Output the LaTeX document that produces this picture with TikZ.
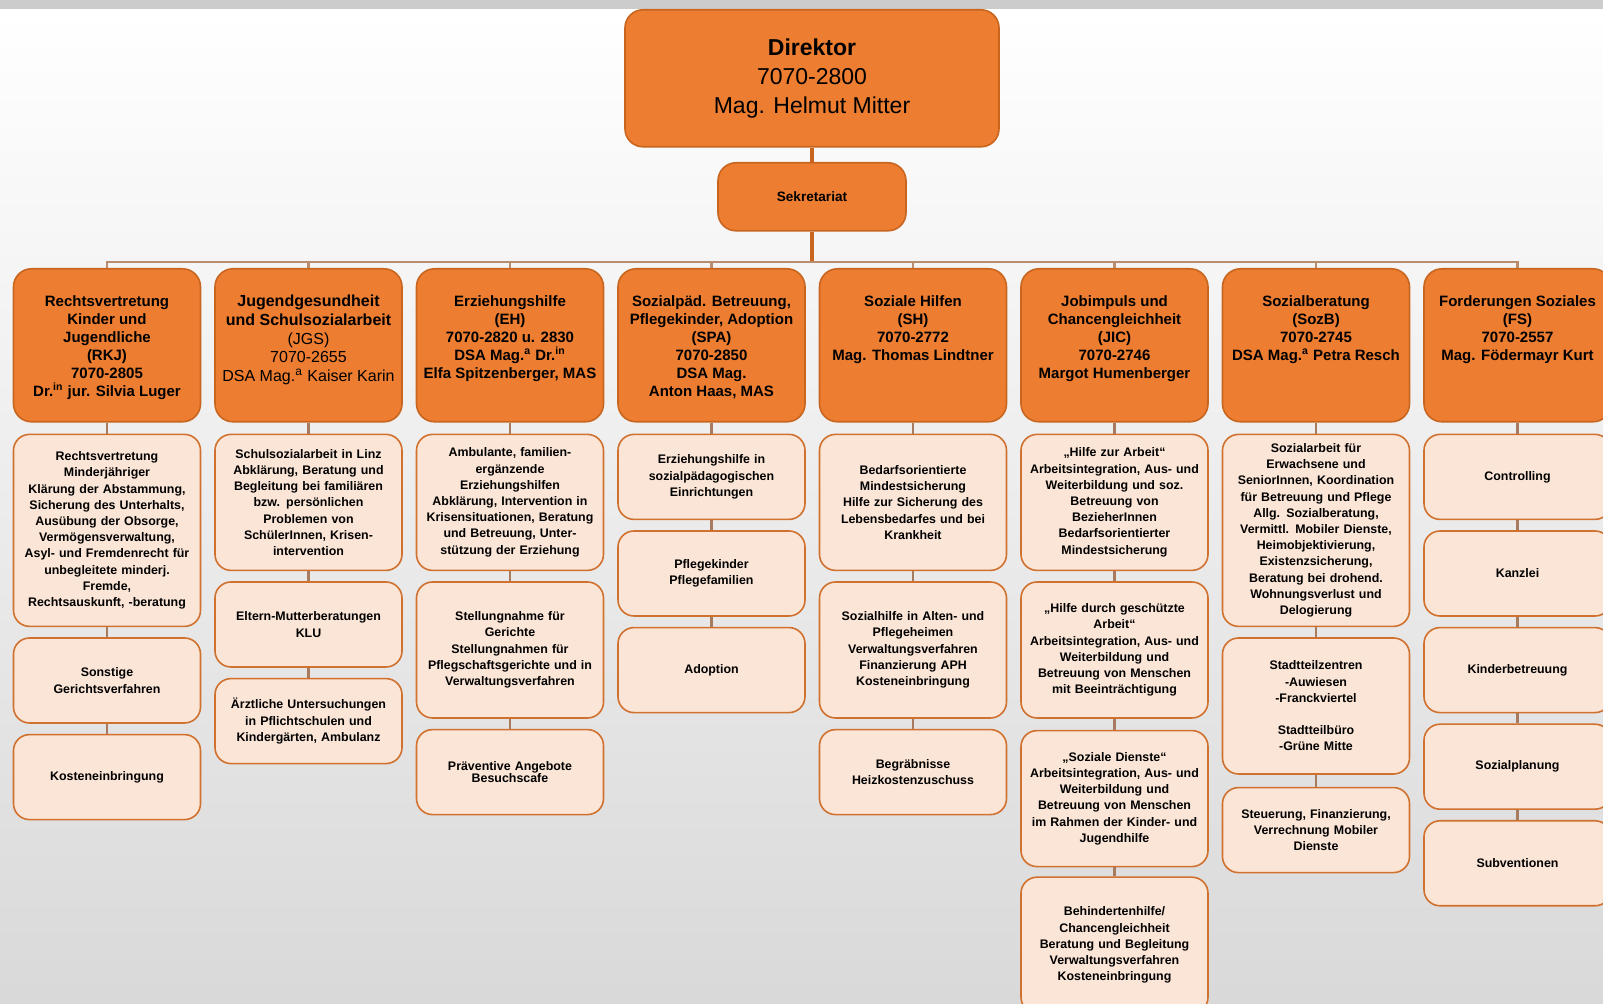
\documentclass[tikz,border=0pt]{standalone}
\usepackage{fontspec}
\setmainfont{Liberation Sans}
\usepackage{tikz}
\usetikzlibrary{positioning}

\definecolor{deptorange}{HTML}{ED7D31}
\definecolor{deptedge}{HTML}{C8651F}
\definecolor{taskfill}{HTML}{FBE5D6}
\definecolor{taskedge}{HTML}{D0712F}
\definecolor{buscol}{HTML}{B88C6C}
\definecolor{linkcol}{HTML}{A87A5E}

\newcommand{\headtext}[1]{\parbox[c][70pt][t]{92pt}{\centering\vspace*{10pt}#1}}

\begin{document}
\begin{tikzpicture}[
  x=0.5pt, y=-0.5pt,
  dept/.style={
    rectangle,
    draw=deptedge,
    line width=0.8pt,
    rounded corners=9pt,
    fill=deptorange,
    inner sep=0pt,
    minimum width=93.5pt,
    minimum height=76.5pt,
    anchor=north,
    font=\fontsize{7.5}{9}\bfseries\selectfont
  },
  task/.style={
    rectangle,
    draw=taskedge,
    line width=0.8pt,
    rounded corners=8pt,
    fill=taskfill,
    align=center,
    text width=90pt,
    inner xsep=1.75pt,
    minimum width=93.5pt,
    minimum height=42.5pt,
    font=\fontsize{6.2}{8.1}\bfseries\selectfont
  },
  midbox/.style={minimum height=68pt},
  bigbox/.style={minimum height=96pt},
  link/.style={draw=linkcol, line width=1.1pt},
  bus/.style={draw=buscol, line width=1.1pt},
  topline/.style={draw=deptedge, line width=1.6pt}
]

% Background
\useasboundingbox (0,0) rectangle (1603,1004);
\clip (0,0) rectangle (1603,1004);
\fill[top color=white, bottom color=black!15] (0,9) rectangle (1603,1004);
\fill[black!20] (0,0) rectangle (1603,9);

% Top of the chart
\node[dept, minimum width=187pt, minimum height=68.5pt, align=center,
      font=\fontsize{11.5}{14.5}\selectfont] (dir) at (812,9)
  {\textbf{Direktor}\\7070-2800\\Mag. Helmut Mitter};
\node[dept, minimum width=94pt, minimum height=34pt,
      font=\fontsize{6.8}{8}\bfseries\selectfont] (sek) at (812,162) {Sekretariat};
\coordinate (bus) at (812,262);

% Departments (left to right)
\node[dept] (rkj) at (107,268) {\headtext{Rechtsvertretung\\Kinder und\\Jugendliche\\(RKJ)\\7070-2805\\Dr.\textsuperscript{in} jur. Silvia Luger}};
\node[dept] (jgs) at (308.5,268) {\headtext{\fontsize{8}{9.3}\selectfont Jugendgesundheit\\und Schulsozialarbeit\\\mdseries (JGS)\\7070-2655\\DSA Mag.\textsuperscript{a} Kaiser Karin}};
\node[dept] (eh) at (510,268) {\headtext{Erziehungshilfe\\(EH)\\7070-2820 u. 2830\\DSA Mag.\textsuperscript{a} Dr.\textsuperscript{in}\\Elfa Spitzenberger, MAS}};
\node[dept] (spa) at (711.5,268) {\headtext{Sozialpäd. Betreuung,\\Pflegekinder, Adoption\\(SPA)\\7070-2850\\DSA Mag.\\Anton Haas, MAS}};
\node[dept] (sh) at (913,268) {\headtext{Soziale Hilfen\\(SH)\\7070-2772\\Mag. Thomas Lindtner}};
\node[dept] (jic) at (1114.5,268) {\headtext{Jobimpuls und\\Chancengleichheit\\(JIC)\\7070-2746\\Margot Humenberger}};
\node[dept] (sozb) at (1316,268) {\headtext{Sozialberatung\\(SozB)\\7070-2745\\DSA Mag.\textsuperscript{a} Petra Resch}};
\node[dept] (fs) at (1517.5,268) {\headtext{Forderungen Soziales\\(FS)\\7070-2557\\Mag. Födermayr Kurt}};

% Units below each department
\node[task, bigbox, below=5.5pt of rkj] (rkj1) {Rechtsvertretung\\Minderjähriger\\Klärung der Abstammung,\\Sicherung des Unterhalts,\\Ausübung der Obsorge,\\Vermögensverwaltung,\\Asyl- und Fremdenrecht für\\unbegleitete minderj.\\Fremde,\\Rechtsauskunft, -beratung};
\node[task, below=5pt of rkj1] (rkj2) {Sonstige\\Gerichtsverfahren};
\node[task, below=5pt of rkj2] (rkj3) {Kosteneinbringung};

\node[task, midbox, below=5.5pt of jgs] (jgs1) {Schulsozialarbeit in Linz\\Abklärung, Beratung und\\Begleitung bei familiären\\bzw. persönlichen\\Problemen von\\SchülerInnen, Krisen-\\intervention};
\node[task, below=5pt of jgs1] (jgs2) {Eltern-Mutterberatungen\\KLU};
\node[task, below=5pt of jgs2] (jgs3) {Ärztliche Untersuchungen\\in Pflichtschulen und\\Kindergärten, Ambulanz};

\node[task, midbox, below=5.5pt of eh] (eh1) {Ambulante, familien-\\ergänzende\\Erziehungshilfen\\Abklärung, Intervention in\\Krisensituationen, Beratung\\und Betreuung, Unter-\\stützung der Erziehung};
\node[task, midbox, below=5pt of eh1] (eh2) {Stellungnahme für\\Gerichte\\Stellungnahmen für\\Pflegschaftsgerichte und in\\Verwaltungsverfahren};
\node[task, below=5pt of eh2] (eh3) {Präventive Angebote\\[-2pt]Besuchscafe};

\node[task, below=5.5pt of spa] (spa1) {Erziehungshilfe in\\sozialpädagogischen\\Einrichtungen};
\node[task, below=5pt of spa1] (spa2) {Pflegekinder\\Pflegefamilien};
\node[task, below=5pt of spa2] (spa3) {Adoption};

\node[task, midbox, below=5.5pt of sh] (sh1) {Bedarfsorientierte\\Mindestsicherung\\Hilfe zur Sicherung des\\Lebensbedarfes und bei\\Krankheit};
\node[task, midbox, below=5pt of sh1] (sh2) {Sozialhilfe in Alten- und\\Pflegeheimen\\Verwaltungsverfahren\\Finanzierung APH\\Kosteneinbringung};
\node[task, below=5pt of sh2] (sh3) {Begräbnisse\\Heizkostenzuschuss};

\node[task, midbox, below=5.5pt of jic] (jic1) {„Hilfe zur Arbeit“\\Arbeitsintegration, Aus- und\\Weiterbildung und soz.\\Betreuung von\\BezieherInnen\\Bedarfsorientierter\\Mindestsicherung};
\node[task, midbox, below=5pt of jic1] (jic2) {„Hilfe durch geschützte\\Arbeit“\\Arbeitsintegration, Aus- und\\Weiterbildung und\\Betreuung von Menschen\\mit Beeinträchtigung};
\node[task, midbox, below=5.5pt of jic2] (jic3) {„Soziale Dienste“\\Arbeitsintegration, Aus- und\\Weiterbildung und\\Betreuung von Menschen\\im Rahmen der Kinder- und\\Jugendhilfe};
\node[task, midbox, below=4.5pt of jic3] (jic4) {Behindertenhilfe/\\Chancengleichheit\\Beratung und Begleitung\\Verwaltungsverfahren\\Kosteneinbringung};

\node[task, bigbox, below=5.5pt of sozb] (sozb1) {Sozialarbeit für\\Erwachsene und\\SeniorInnen, Koordination\\für Betreuung und Pflege\\Allg. Sozialberatung,\\Vermittl. Mobiler Dienste,\\Heimobjektivierung,\\Existenzsicherung,\\Beratung bei drohend.\\Wohnungsverlust und\\Delogierung};
\node[task, midbox, below=5pt of sozb1] (sozb2) {Stadtteilzentren\\-Auwiesen\\-Franckviertel\\[8.1pt]Stadtteilbüro\\-Grüne Mitte};
\node[task, below=6pt of sozb2] (sozb3) {Steuerung, Finanzierung,\\Verrechnung Mobiler\\Dienste};

\node[task, below=5.5pt of fs] (fs1) {Controlling};
\node[task, below=5pt of fs1] (fs2) {Kanzlei};
\node[task, below=5pt of fs2] (fs3) {Kinderbetreuung};
\node[task, below=5pt of fs3] (fs4) {Sozialplanung};
\node[task, below=5pt of fs4] (fs5) {Subventionen};

% Connectors
\draw[topline] (dir) -- (sek);
\draw[topline] (sek) -- (bus);
\draw[bus] (rkj.north) |- (bus);
\draw[bus] (jgs.north) |- (bus);
\draw[bus] (eh.north) |- (bus);
\draw[bus] (spa.north) |- (bus);
\draw[bus] (sh.north) |- (bus);
\draw[bus] (jic.north) |- (bus);
\draw[bus] (sozb.north) |- (bus);
\draw[bus] (fs.north) |- (bus);

\draw[link] (rkj) -- (rkj1);
\draw[link] (rkj1) -- (rkj2);
\draw[link] (rkj2) -- (rkj3);
\draw[link] (jgs) -- (jgs1);
\draw[link] (jgs1) -- (jgs2);
\draw[link] (jgs2) -- (jgs3);
\draw[link] (eh) -- (eh1);
\draw[link] (eh1) -- (eh2);
\draw[link] (eh2) -- (eh3);
\draw[link] (spa) -- (spa1);
\draw[link] (spa1) -- (spa2);
\draw[link] (spa2) -- (spa3);
\draw[link] (sh) -- (sh1);
\draw[link] (sh1) -- (sh2);
\draw[link] (sh2) -- (sh3);
\draw[link] (jic) -- (jic1);
\draw[link] (jic1) -- (jic2);
\draw[link] (jic2) -- (jic3);
\draw[link] (jic3) -- (jic4);
\draw[link] (sozb) -- (sozb1);
\draw[link] (sozb1) -- (sozb2);
\draw[link] (sozb2) -- (sozb3);
\draw[link] (fs) -- (fs1);
\draw[link] (fs1) -- (fs2);
\draw[link] (fs2) -- (fs3);
\draw[link] (fs3) -- (fs4);
\draw[link] (fs4) -- (fs5);

\end{tikzpicture}
\end{document}
